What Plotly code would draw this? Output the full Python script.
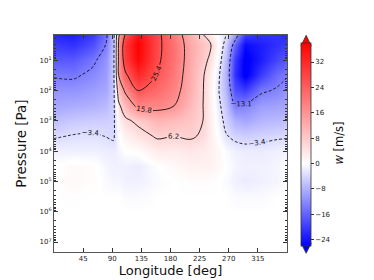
import math
import plotly.graph_objects as go

# Longitude grid (deg) and log10 pressure grid (Pa)
lon = [0, 30, 60, 80, 92, 100, 110, 130, 160, 185, 210, 230, 240, 255, 265, 280, 295, 320, 345, 360]
logp = [0.17, 0.5, 1.0, 1.5, 2.0, 2.5, 3.0, 3.5, 4.0, 4.5, 5.0, 5.5, 6.0, 7.33]

# Vertical wind w [m/s], one row per pressure level
w_p017 = [-22, -23, -20, -14.5, -6, 15, 26, 36, 27, 20, 12, 6.5, 4, -1, -3, -10, -20, -21, -21, -22]
w_p050 = [-20, -21, -18, -13, -5.5, 17, 30, 38, 27, 21, 13, 9, 7.5, 0, -5, -16, -25, -23, -21, -20]
w_p100 = [-17, -17, -14, -11, -5, 17, 29, 37, 26.5, 21, 13, 8, 5.5, -1.5, -7, -20, -27, -23, -19, -17]
w_p150 = [-13.5, -13.8, -12, -10, -5, 16, 24, 32, 25, 20, 12.5, 6.8, 3.5, -3, -8, -21, -27, -20, -15, -13.5]
w_p200 = [-11, -11, -10, -9, -5, 10, 17, 25.8, 22, 18.5, 12, 6.5, 3, -3.5, -7.5, -18, -20, -14, -12.5, -11]
w_p250 = [-9, -8.5, -8, -7, -4.8, 5, 10, 18, 18, 16, 10.5, 6.3, 3, -2.5, -6, -13, -12.5, -10, -9.5, -9]
w_p300 = [-6.5, -5.5, -5, -5, -4.5, 2, 5, 7.5, 11, 10, 8.5, 6.2, 3, -1.5, -4.5, -8, -9, -7.5, -7, -6.5]
w_p350 = [-3.8, -3.2, -3, -3.5, -4, 0, 2, 4, 7, 6.3, 7, 5.5, 3, -0.5, -3, -4.5, -5, -4.5, -4, -3.8]
w_p400 = [-1.5, -1.5, -1.5, -1.8, -2, -1, 0, 0.5, 3, 3, 3.5, 3, 2.5, 1, -0.5, -1.5, -2, -2, -1.5, -1.5]
w_p450 = [0, 0.8, 0.4, -1, -1.5, -1.5, -1.5, -2, 0, 1, 2, 2, 2, 1, 0, -1, -1.5, -1.5, -1, 0]
w_p500 = [0, 1, 0.4, -0.5, -1, -1, -1.5, -1.5, -0.5, 0, 0.5, 0.5, 0.5, 0, -0.5, -1.5, -2, -1.5, -1, 0]
w_p550 = [0, 0.3, 0, 0, 0, 0, -0.5, -0.5, 0, 0, 0, 0, 0, 0, 0, -0.5, -0.5, -0.5, 0, 0]
w_p600 = [0] * 20
w_p733 = [0] * 20

w_grid = [w_p017, w_p050, w_p100, w_p150, w_p200, w_p250, w_p300, w_p350,
          w_p400, w_p450, w_p500, w_p550, w_p600, w_p733]

# Colour scale limits and ticks
w_min, w_max = -26, 38
cbar_ticks = [-24, -16, -8, 0, 8, 16, 24, 32]
x_ticks = [45, 90, 135, 180, 225, 270, 315]
y_ticks = [1, 2, 3, 4, 5, 6, 7]
y_ticktext = ["10<sup>%d</sup>" % v for v in y_ticks]
neg_levels = dict(start=-13.1, end=-3.4, size=9.7)
pos_levels = dict(start=6.2, end=25.4, size=9.6)

zero_pos = (0 - w_min) / (w_max - w_min)
colorscale = [[0, "rgb(0,0,255)"], [zero_pos, "rgb(255,255,255)"], [1, "rgb(255,0,0)"]]

minor_y = [math.log10(k * 10 ** n) for n in range(0, 8) for k in range(2, 10)
           if 0.17 <= math.log10(k * 10 ** n) <= 7.33]

fig = go.Figure()
fig.add_trace(go.Heatmap(
    x=lon, y=logp, z=w_grid, zsmooth="best",
    colorscale=colorscale, zmin=w_min, zmax=w_max,
    colorbar=dict(
        x=1.0601, xanchor="left", xpad=0, y=0.4955, yanchor="middle", ypad=0,
        len=203.4, lenmode="pixels", thickness=10,
        outlinewidth=0.8, outlinecolor="#333",
        tickvals=cbar_ticks, ticks="outside", ticklen=3, tickwidth=0.8, tickcolor="#333",
        tickfont=dict(family="DejaVu Sans", size=7, color="#222"),
    ),
))
fig.add_trace(go.Contour(
    x=lon, y=logp, z=w_grid, autocontour=False,
    contours=dict(coloring="none", showlabels=True, labelformat=".1f",
                  labelfont=dict(family="DejaVu Sans", size=7, color="#111"), **neg_levels),
    line=dict(color="#111", width=0.9, dash="3px,2px", smoothing=1.0),
    showscale=False, hoverinfo="skip",
))
fig.add_trace(go.Contour(
    x=lon, y=logp, z=w_grid, autocontour=False,
    contours=dict(coloring="none", showlabels=True, labelformat=".1f",
                  labelfont=dict(family="DejaVu Sans", size=7, color="#111"), **pos_levels),
    line=dict(color="#111", width=0.9, smoothing=1.0),
    showscale=False, hoverinfo="skip",
))

# colorbar extension triangles
fig.add_shape(type="path", xref="paper", yref="paper",
              path="M 1.0601 0.9496 L 1.1043 0.9496 L 1.0822 0.9987 Z",
              fillcolor="rgb(255,0,0)", line=dict(color="#333", width=0.8))
fig.add_shape(type="path", xref="paper", yref="paper",
              path="M 1.0601 0.0415 L 1.1043 0.0415 L 1.0822 -0.0058 Z",
              fillcolor="rgb(0,0,255)", line=dict(color="#333", width=0.8))

# colorbar label
fig.add_annotation(text="<i>w</i> [m/s]", xref="paper", yref="paper", x=1.2189, y=0.5,
                   textangle=-90, showarrow=False, xanchor="center", yanchor="middle",
                   font=dict(family="DejaVu Sans", size=11.5, color="#111"))

axis_common = dict(showgrid=False, zeroline=False, showline=True, linecolor="#555", linewidth=1,
                   mirror="ticks", ticks="inside", ticklen=4, tickwidth=0.8, tickcolor="#333",
                   tickfont=dict(family="DejaVu Sans", size=7, color="#222"))
fig.update_layout(
    width=374, height=280, margin=dict(l=46, r=95, t=27, b=29),
    paper_bgcolor="white", plot_bgcolor="white", showlegend=False,
    xaxis=dict(range=[0, 360], tickvals=x_ticks,
               title=dict(text="Longitude [deg]", standoff=3,
                          font=dict(family="DejaVu Sans", size=13, color="#111")),
               **axis_common),
    yaxis=dict(range=[7.33, 0.17], tickvals=y_ticks, ticktext=y_ticktext,
               minor=dict(tickvals=minor_y, ticks="inside", ticklen=2, tickcolor="#333"),
               title=dict(text="Pressure [Pa]", standoff=9,
                          font=dict(family="DejaVu Sans", size=13.5, color="#111")),
               **axis_common),
)
fig.write_html("out.html")
